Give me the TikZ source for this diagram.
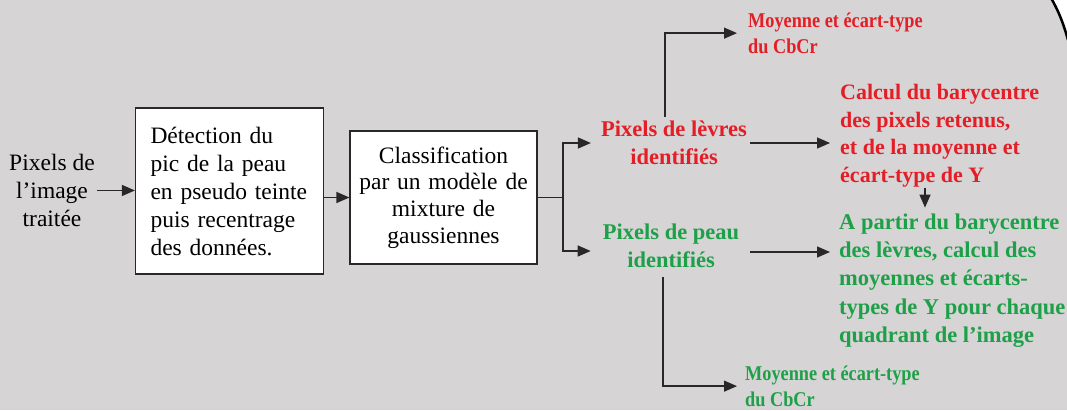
\documentclass[tikz,border=0pt]{standalone}
\usepackage{fontspec}
\setmainfont{Liberation Serif}
\newfontfamily\condfont[FakeStretch=0.87]{Liberation Serif}
\usetikzlibrary{arrows.meta}
\definecolor{bg}{RGB}{214,212,213}
\definecolor{redt}{RGB}{228,30,38}
\definecolor{greent}{RGB}{30,160,72}
\definecolor{lnc}{RGB}{40,40,40}
\begin{document}
\begin{tikzpicture}[x=1pt,y=-1pt,
 arr/.style={line width=1.3pt, draw=lnc, -{Triangle[length=13pt,width=11pt]}},
 ln/.style={line width=1.3pt, draw=lnc},
 boxn/.style={draw=lnc, line width=1.2pt, fill=white},
 plain/.style={inner sep=0pt, font=\fontsize{23.5}{28}\selectfont},
 col/.style={inner sep=0pt, font=\fontsize{22.5}{28.5}\selectfont\bfseries},
 smalltxt/.style={inner sep=0pt, font=\fontsize{21}{26}\selectfont\condfont\bfseries},
]
\useasboundingbox (0,0) rectangle (1067,410);
\fill[bg] (0,0) rectangle (1067,410);
\fill[white] (1052,0) .. controls (1058,10) and (1063,22) .. (1067,38) -- (1067,0) -- cycle;
\draw[line width=2.5pt] (1051,-2) .. controls (1058,10) and (1063,22) .. (1068,40);

% nodes
\node[plain, align=center, anchor=north] (in) at (52,154) {Pixels de\\l’image\\traitée};
\node[boxn, plain, inner xsep=15pt, inner ysep=0pt, text width=158pt, align=left,
      minimum width=187pt, minimum height=166pt] (box1) at (229.5,191)
  {Détection du\\pic de la peau\\en pseudo teinte\\puis recentrage\\des données.};
\node[boxn, plain, inner xsep=8pt, inner ysep=0pt, text width=171pt, align=center,
      minimum width=187pt, minimum height=133pt, font=\fontsize{23.5}{26.7}\selectfont] (box2) at (443.5,197.5)
  {Classification\\par un modèle de\\mixture de\\gaussiennes};

\node[col, text=redt, align=center] (lev) at (674,143) {Pixels de lèvres\\identifiés};
\node[col, text=greent, align=center] (peau) at (671,246) {Pixels de peau\\identifiés};

\node[col, text=redt, align=left, anchor=north west, font=\fontsize{22}{27.7}\selectfont\bfseries] (calc) at (840,84)
  {Calcul du barycentre\\des pixels retenus,\\et de la moyenne et\\écart-type de Y};
\node[col, text=greent, align=left, anchor=north west, font=\fontsize{22.5}{28.2}\selectfont\bfseries] (apartir) at (839,213.6)
  {A partir du barycentre\\des lèvres, calcul des\\moyennes et écarts-\\types de Y pour chaque\\quadrant de l’image};

\node[smalltxt, text=redt, align=left, anchor=north west] (moyR) at (748,12.5) {Moyenne et écart-type\\du CbCr};
\node[smalltxt, text=greent, align=left, anchor=north west] (moyG) at (745,365.5) {Moyenne et écart-type\\du CbCr};

% connectors
\coordinate (split) at (563,0);
\coordinate (xdown) at (925,0);
\draw[arr] ([xshift=2pt]in.east) -- (box1.west |- in.east);
\draw[arr] (box1.east |- box2.west) -- (box2.west);
\draw[ln] (box2.east) -- (box2.east -| split);
\draw[arr] (box2.east -| split) |- ([xshift=-10pt]lev.west);
\draw[arr] (box2.east -| split) |- ([xshift=-12pt,yshift=-5pt]peau.west);
\draw[arr] ([xshift=-9pt,yshift=4pt]lev.north) |- ([xshift=-11pt]moyR.west);
\draw[arr] ([xshift=3pt]lev.east) -- ([xshift=-10pt]lev.east -| calc.west);
\draw[arr] (calc.south -| xdown) -- ([yshift=6pt]apartir.north -| xdown);
\coordinate (pa) at ([yshift=-6pt]peau.east);
\draw[arr] ([xshift=11pt]pa) -- ([xshift=-9pt]pa -| apartir.west);
\draw[arr] ([xshift=-8pt,yshift=-9pt]peau.south) |- ([xshift=-8pt]moyG.west);
\end{tikzpicture}
\end{document}
